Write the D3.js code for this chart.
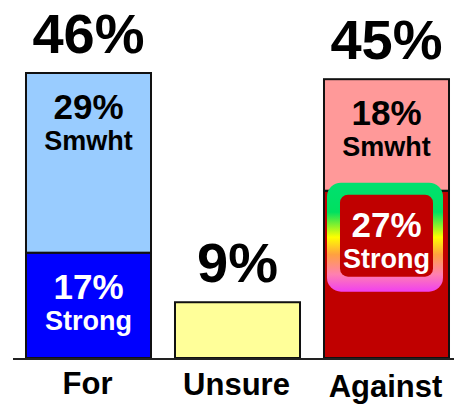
<!DOCTYPE html>
<html><head><meta charset="utf-8">
<script src="https://cdn.jsdelivr.net/npm/d3@7/dist/d3.min.js"></script>
<style>
html,body{margin:0;padding:0;background:#fff;}
svg{display:block;font-family:"Liberation Sans",Arial,sans-serif;}
</style></head>
<body>
<script>
const categories = ["For", "Unsure", "Against"];
const strongValues = [17, 9, 27];
const smwhtValues = [29, 0, 18];
const totals = [46, 9, 45];
const segmentLabels = ["Strong", "Smwht"];

const W = 454, H = 405;
const svg = d3.select("body").append("svg").attr("width", W).attr("height", H);

const x = d3.scaleBand().domain(categories).range([14, 461]).paddingInner(0.161).paddingOuter(0.0805);
const y = d3.scaleLinear().domain([0, 46]).range([358, 73]);

const strongColors = ["#0000ff", "#ffff99", "#c00000"];
const smwhtColors = ["#99ccff", "#ffff99", "#ff9999"];

// gradient def
const defs = svg.append("defs");
const grad = defs.append("linearGradient").attr("id", "rb").attr("x1", 0).attr("y1", 0).attr("x2", 0).attr("y2", 1);
[[0, "#00e070"], [0.27, "#00e060"], [0.5, "#ffff00"], [0.66, "#ffa040"], [0.84, "#ff80b0"], [1, "#f040f0"]]
  .forEach(([o, c]) => grad.append("stop").attr("offset", o).attr("stop-color", c));

const g = svg.append("g");
categories.forEach((c, i) => {
  const bx = x(c), bw = x.bandwidth();
  g.append("rect").attr("x", bx).attr("y", y(strongValues[i])).attr("width", bw)
    .attr("height", y(0) - y(strongValues[i])).attr("fill", strongColors[i])
    .attr("stroke", "#111").attr("stroke-width", 2);
  if (smwhtValues[i] > 0) {
    g.append("rect").attr("x", bx).attr("y", y(totals[i])).attr("width", bw)
      .attr("height", y(strongValues[i]) - y(totals[i])).attr("fill", smwhtColors[i])
      .attr("stroke", "#111").attr("stroke-width", 2);
  }
});

// highlight frame on Against Strong
{
  const c = "Against", i = 2;
  const bx = x(c), top = y(strongValues[i]);
  g.append("rect").attr("x", bx + 3).attr("y", top - 8).attr("width", 116).attr("height", 109)
    .attr("rx", 14).attr("fill", "url(#rb)");
  g.append("rect").attr("x", bx + 16).attr("y", top + 4).attr("width", 93).attr("height", 82)
    .attr("rx", 8).attr("fill", strongColors[i]);
}

// segment labels
categories.forEach((c, i) => {
  if (smwhtValues[i] === 0) return;
  const cx = x(c) + x.bandwidth() / 2;
  const segs = [
    {v: smwhtValues[i], top: y(totals[i]), name: segmentLabels[1], col: "#000"},
    {v: strongValues[i], top: y(strongValues[i]), name: segmentLabels[0], col: "#fff"}
  ];
  segs.forEach(s => {
    g.append("text").attr("x", cx).attr("y", s.top + 46).attr("text-anchor", "middle")
      .attr("font-size", 35).attr("font-weight", "bold").attr("fill", s.col).text(s.v + "%");
    g.append("text").attr("x", cx).attr("y", s.top + 77).attr("text-anchor", "middle")
      .attr("font-size", 27).attr("font-weight", "bold").attr("fill", s.col).text(s.name);
  });
});

// total labels
categories.forEach((c, i) => {
  g.append("text").attr("x", x(c) + x.bandwidth() / 2).attr("y", y(totals[i]) - 20)
    .attr("text-anchor", "middle").attr("font-size", 56).attr("font-weight", "bold")
    .attr("fill", "#000").text(totals[i] + "%");
});

// baseline
svg.append("line").attr("x1", 13).attr("x2", 454).attr("y1", y(0) + 1).attr("y2", y(0) + 1)
  .attr("stroke", "#222").attr("stroke-width", 2);

// category labels
const labelY = [394, 395, 397];
categories.forEach((c, i) => {
  svg.append("text").attr("x", x(c) + x.bandwidth() / 2 - 1).attr("y", labelY[i])
    .attr("text-anchor", "middle").attr("font-size", 31).attr("font-weight", "bold")
    .attr("fill", "#000").text(c);
});
</script>
</body></html>
